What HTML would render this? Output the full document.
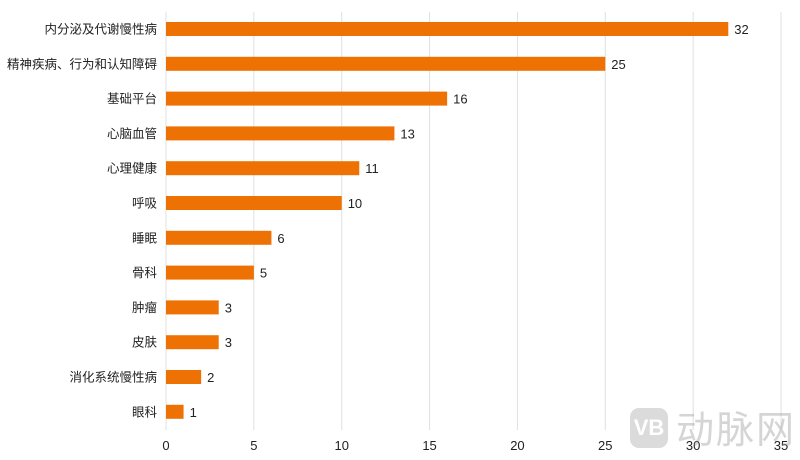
<!DOCTYPE html>
<html><head><meta charset="utf-8">
<style>
html,body{margin:0;padding:0;background:#fff;}
#wrap{position:relative;width:800px;height:460px;overflow:hidden;font-family:"Liberation Sans","Noto Sans CJK SC",sans-serif;}
svg text{font-family:"Liberation Sans","Noto Sans CJK SC",sans-serif;}
</style></head>
<body>
<div id="wrap">
<svg id="chart" width="800" height="460"></svg>
<div style="position:absolute;left:630px;top:406px;width:170px;height:44px;opacity:0.35;">
  <div style="position:absolute;left:0;top:2px;width:38px;height:40px;border-radius:9px;background:#9a9a9a;color:#fff;font-size:22px;font-weight:bold;text-align:center;line-height:40px;">VB</div>
  <div style="position:absolute;left:46px;top:-2px;font-size:38px;color:#8a8a8a;font-family:'Noto Sans CJK SC',sans-serif;letter-spacing:2px;line-height:46px;">动脉网</div>
</div>
</div>
<script>
const categories = ["内分泌及代谢慢性病","精神疾病、行为和认知障碍","基础平台","心脑血管","心理健康","呼吸","睡眠","骨科","肿瘤","皮肤","消化系统慢性病","眼科"];
const values = [32,25,16,13,11,10,6,5,3,3,2,1];
const ticks = [0,5,10,15,20,25,30,35];

const svg = document.getElementById('chart');
const NS = 'http://www.w3.org/2000/svg';
const x0 = 166, x1 = 781, xMax = 35;
const yTop = 29, yStep = 34.8, barH = 14;
const xs = v => x0 + (v / xMax) * (x1 - x0);
const ys = i => yTop + i * yStep;
function mk(tag, attrs){const e=document.createElementNS(NS,tag);for(const k in attrs)e.setAttribute(k,attrs[k]);svg.appendChild(e);return e;}

ticks.forEach(t=>{
  const g = mk('line',{x1:xs(t),x2:xs(t),y1:12,y2:430,stroke:'#e0e0e0','stroke-width':1});
  
  
  const l = mk('text',{x:xs(t),y:450,'text-anchor':'middle','font-size':13,fill:'#222'});
  l.textContent = t;
  
  
});

categories.forEach((c,i)=>{
  const cy = ys(i);
  const b = mk('rect',{x:xs(0),y:cy-barH/2,width:xs(values[i])-xs(0),height:barH,fill:'#EE7203'});
  
  
  const lab = mk('text',{x:157,y:cy+4.5,'text-anchor':'end','font-size':12.5,fill:'#222'});
  lab.textContent = c;
  
  
  const v = mk('text',{x:xs(values[i])+6,y:cy+5,'font-size':13,fill:'#222'});
  v.textContent = values[i];
  
  
});
</script>
</body></html>
